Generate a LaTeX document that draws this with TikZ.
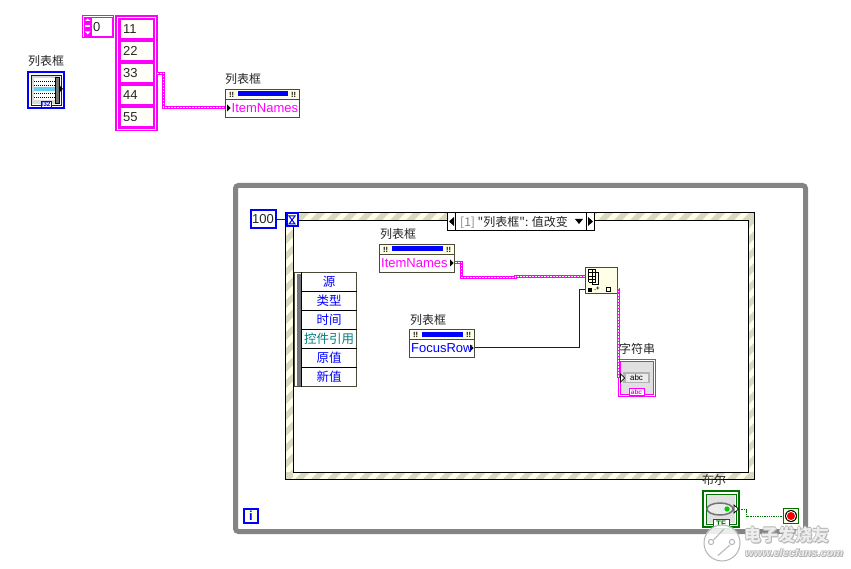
\documentclass[tikz,border=0pt]{standalone}
\usepackage{fontspec}
\setmainfont{Liberation Sans}
\newfontfamily\cjk{Noto Sans CJK SC}
\definecolor{lvpink}{HTML}{FF00FF}
\definecolor{lvblue}{HTML}{0000FF}
\definecolor{lvgreen}{HTML}{007000}
\definecolor{lvframe}{HTML}{848484}
\definecolor{lvcream}{HTML}{FFFFE6}
\definecolor{lvstripe}{HTML}{D9D9C2}
\definecolor{lvedge}{HTML}{4A4A38}
\definecolor{lvteal}{HTML}{008080}
\definecolor{lvgray}{HTML}{D8D8D8}
\definecolor{markgray}{HTML}{B4B4B4}
\definecolor{marklight}{HTML}{EDEDED}
\tikzset{
  x=1pt,y=-1pt,
  boxy/.style={rectangle,anchor=north west,inner sep=0pt,outer sep=0pt},
  lab/.style={font=\cjk\fontsize{12}{12}\selectfont,text=black!85,inner sep=0pt,anchor=center},
  elem/.style={boxy,fill=lvcream!30!white,minimum width=32pt,minimum height=18pt},
  elemtxt/.style={font=\fontsize{13}{13}\selectfont,inner sep=0pt,anchor=west,text=black!85},
  propnode/.style={boxy,draw=lvedge,line width=1pt,fill=white},
  pinkwire/.style={draw=lvpink,line width=3pt,line join=miter,
     postaction={draw=white,line width=1.2pt,dash pattern=on 1.5pt off 1.5pt}},
  bluewire/.style={draw=lvblue,line width=1pt},
  greenwire/.style={draw=lvgreen,line width=1.3pt,dash pattern=on 1.3pt off 1pt},
  rowtxt/.style={font=\cjk\fontsize{12.5}{12.5}\selectfont,text=lvblue,inner sep=0pt,anchor=center},
  rowline/.style={draw=black,line width=1pt},
  propname/.style={font=\fontsize{13}{13}\selectfont,inner sep=0pt,anchor=west},
  markline/.style={draw=markgray,line width=1pt},
  marktxt/.style={font=\cjk\bfseries\fontsize{17}{17}\selectfont,inner sep=0pt,anchor=west},
  markurl/.style={font=\bfseries\itshape\fontsize{11}{11}\selectfont,inner sep=0pt,anchor=west},
}
\newcommand{\prophead}[4]{% x1 y x2 terminal-x
  \fill[lvcream] (#1+1,#2+1) rectangle (#3-1,#2+9);
  \draw[draw=lvedge,line width=1pt] (#1,#2+10) -- (#3,#2+10);
  \fill[lvblue] (#1+12,#2+2) rectangle (#3-12,#2+7);
  \node[font=\bfseries\fontsize{7.5}{7.5}\selectfont,inner sep=0pt] at (#1+6,#2+5) {!!};
  \node[font=\bfseries\fontsize{7.5}{7.5}\selectfont,inner sep=0pt] at (#3-6,#2+5) {!!};
  \fill[black] (#4,#2+15) -- ++(3.5,3.5) -- ++(-3.5,3.5) -- cycle;
}
\begin{document}
\begin{tikzpicture}
\useasboundingbox[fill=white] (0,0) rectangle (851,569);

% ---------- loop frame
\node[boxy,draw=lvframe,line width=5pt,rounded corners=3pt,minimum width=570pt,minimum height=346pt] (loop) at (235.5,185.5) {};

% ---------- top left listbox terminal
\node[lab] (lb1lab) at (46,61) {列表框};
\node[boxy,draw=lvblue,line width=2pt,fill=white,minimum width=36pt,minimum height=36pt] (lbterm) at (28,72) {};
\draw[lvblue,line width=.8pt] (31,75) rectangle (61,105);
\fill[black!15] (32,76) rectangle (60,104);
\fill[white] (34,78) rectangle (55,100);
\foreach \yy in {81,85,93,97} \draw[black,line width=.7pt,dash pattern=on 1pt off 1pt] (34,\yy) -- (55,\yy);
\fill[cyan!60!white] (34,87) rectangle (55,91);
\fill[black!55] (55,77) rectangle (59,103);
\draw[black,line width=.5pt] (55,77) rectangle (59,103);
\fill[black] (59,85) -- (63,89) -- (59,93) -- cycle;
\node[fill=white,draw=lvblue,line width=.5pt,inner sep=.5pt,font=\bfseries\fontsize{6.5}{6.5}\selectfont,text=lvblue] at (46,104) {I32};

% ---------- array
\node[boxy,draw=lvpink,line width=1pt,fill=white,minimum width=31pt,minimum height=22pt] (idx) at (82.5,15.5) {};
\draw[lvpink,line width=.8pt] (84,17) rectangle (112,36);
\fill[lvpink] (84,17) rectangle (91.5,36);
\fill[white] (85,21) -- (87.7,18.5) -- (90.3,21) -- cycle;
\fill[white] (85,25.5) rectangle (90.3,27.5);
\fill[white] (85,31.5) -- (87.7,34.5) -- (90.3,31.5) -- cycle;
\node[elemtxt] (idxt) at (93,27) {0};
\node[boxy,draw=lvpink,line width=1pt,fill=lvpink,minimum width=42pt,minimum height=115pt] (arr) at (115.5,15.5) {};
\draw[white,line width=.8pt] (117,17) rectangle (155.5,129);
\node[elem] (e1) at (121,20) {};
\node[elem] (e2) at (121,42) {};
\node[elem] (e3) at (121,64) {};
\node[elem] (e4) at (121,86) {};
\node[elem] (e5) at (121,108) {};
\node[elemtxt] at (123,29) {11};
\node[elemtxt] at (123,51) {22};
\node[elemtxt] at (123,73) {33};
\node[elemtxt] at (123,95) {44};
\node[elemtxt] at (123,117) {55};

% ---------- top property node
\node[lab] (pn1lab) at (243,79) {列表框};
\node[propnode,minimum width=74pt,minimum height=28pt] (pn1) at (225.5,89.5) {};
\prophead{225.5}{89.5}{299.5}{227}
\node[propname,text=lvpink] at (231.5,108.5) {ItemNames};
\coordinate (pn1in) at (225,107.5);
\coordinate (arrout) at (157,73.5);
\draw[pinkwire] (arrout) -- (163.5,73.5) -- (163.5,107.5) -- (pn1in);

% ---------- case structure
\fill[lvcream] (285.5,212.5) rectangle (754.5,479.5);
\begin{scope}
\clip (285.5,212.5) rectangle (754.5,479.5);
\foreach \k in {0,1,...,50}
  \fill[lvstripe] (270+\k*16,212) -- ++(8,0) -- ++(-8,8) -- ++(-8,0) -- cycle;
\foreach \k in {0,1,...,50}
  \fill[lvstripe] (270+\k*16,472) -- ++(8,0) -- ++(-8,8) -- ++(-8,0) -- cycle;
\foreach \k in {0,1,...,18}
  \fill[lvstripe] (285,205+\k*16) -- ++(8,-8) -- ++(0,8) -- ++(-8,8) -- cycle;
\foreach \k in {0,1,...,18}
  \fill[lvstripe] (748,205+\k*16) -- ++(8,-8) -- ++(0,8) -- ++(-8,8) -- cycle;
\end{scope}
\node[boxy,draw=black,line width=1pt,minimum width=469pt,minimum height=267pt] (caseo) at (285.5,212.5) {};
\node[boxy,draw=black,line width=1pt,fill=white,minimum width=455pt,minimum height=252pt] (casei) at (293.5,220.5) {};

% selector
\node[boxy,draw=black,line width=1pt,fill=white,minimum width=147pt,minimum height=18pt] (sel) at (447.5,212.5) {};
\draw[black,line width=1pt] (455.5,212.5) -- (455.5,230.5) (586.5,212.5) -- (586.5,230.5);
\fill[black] (449,221.5) -- (454,217) -- (454,226) -- cycle;
\fill[black] (593,221.5) -- (588,217) -- (588,226) -- cycle;
\fill[black] (575,219) -- (583,219) -- (579,224) -- cycle;
\node[font=\cjk\fontsize{12}{12}\selectfont,inner sep=0pt,anchor=west,text=black!85] (seltxt) at (460,222) {\textcolor{black!50}{[1]} "列表框": 值改变};

% timeout terminal and constant
\node[boxy,draw=lvblue,line width=2pt,fill=white,minimum width=25pt,minimum height=18pt] (k100) at (250.5,210.5) {};
\node[font=\fontsize{13}{13}\selectfont,inner sep=0pt,text=black!85] at (263,219.5) {100};
\node[boxy,draw=lvblue,line width=2pt,fill=lvcream,minimum width=11pt,minimum height=13pt] (tmo) at (286.5,213) {};
\draw[lvblue,line width=1pt] (289,216) -- (295,216) -- (289,224) -- (295,224) -- cycle;
\draw[bluewire] (k100.east |- 0,219.5) -- (tmo.west |- 0,219.5);

% event data node
\node[boxy,draw=lvedge,line width=1pt,fill=white,minimum width=62pt,minimum height=114pt] (evt) at (294.5,272.5) {};
\fill[black!55] (296.5,274) rectangle (300.5,385.5);
\draw[black,line width=1pt] (301.5,272.5) -- (301.5,386.5);
\foreach \yy in {291.5,310.5,329.5,348.5,367.5} \draw[rowline] (301.5,\yy) -- (356.5,\yy);
\node[rowtxt] at (329,282) {源};
\node[rowtxt] at (329,301) {类型};
\node[rowtxt] at (329,320) {时间};
\node[rowtxt,text=lvteal] at (329,339) {控件引用};
\node[rowtxt] at (329,358) {原值};
\node[rowtxt] at (329,377) {新值};

% property nodes inside
\node[lab] (pn2lab) at (398,234) {列表框};
\node[propnode,minimum width=75pt,minimum height=28pt] (pn2) at (379.5,244.5) {};
\prophead{379.5}{244.5}{454.5}{450}
\node[propname,text=lvpink] at (381,263.5) {ItemNames};
\node[lab] (pn3lab) at (428,320) {列表框};
\node[propnode,minimum width=65pt,minimum height=28pt] (pn3) at (409.5,329.5) {};
\prophead{409.5}{329.5}{474.5}{470}
\node[propname,text=lvblue] at (411,348.5) {FocusRow};

% array-index function
\node[boxy,draw=lvedge,line width=1pt,fill=lvcream,minimum width=32pt,minimum height=26pt] (fn) at (585.5,267.5) {};
\foreach \xa in {588.5,592,595.5} \draw[black,line width=.7pt] (\xa,269.5) -- (\xa,282.5);
\foreach \ya in {269.5,272.75,276,279.25,282.5} \draw[black,line width=.7pt] (588.5,\ya) -- (595.5,\ya);
\draw[black,line width=.7pt] (595.5,272.5) -- (598.5,272.5) -- (598.5,284.5) -- (592,284.5) -- (592,282.5);
\fill[black] (588,288.5) rectangle (592,292);
\node[font=\bfseries\fontsize{6}{6}\selectfont,inner sep=0pt] at (597,289) {.+};
\draw[black,line width=.7pt] (606,287) rectangle (610,291);

% string indicator
\node[lab] (strlab) at (637,349) {字符串};
\node[boxy,draw=lvpink,line width=1pt,fill=white,minimum width=37pt,minimum height=37pt] (str) at (618.5,359.5) {};
\draw[lvpink,line width=1pt] (620.5,361.5) rectangle (653.5,394.5);
\fill[black!12] (621,362) rectangle (653,394);
\fill[black!30] (623,372) rectangle (650,383);
\fill[black!8] (626,373.5) rectangle (648,382);
\node[font=\fontsize{8}{8}\selectfont,inner sep=0pt] at (636.5,378) {abc};
\node[boxy,draw=lvpink,line width=.8pt,fill=white,inner sep=.5pt,minimum width=15pt,minimum height=7pt,anchor=center,font=\bfseries\fontsize{6.5}{6.5}\selectfont,text=lvpink] at (636.5,392) {abc};

% inside wires
\coordinate (pn2out) at (455,262.5);
\coordinate (fnin) at (585,276.5);
\coordinate (pn3out) at (475,347.5);
\coordinate (fnidx) at (585,289.5);
\coordinate (fnout) at (618.5,288);
\coordinate (strin) at (618.5,378);
\draw[pinkwire] (pn2out) -- (461.5,262.5) -- (461.5,277.5) -- (515.5,277.5) -- (515.5,276.5) -- (fnin);
\draw[bluewire] (pn3out) -- (579.5,347.5) -- (579.5,289.5) -- (fnidx);
\draw[pinkwire] (fnout) -- (strin);
\draw[black,fill=white,line width=.7pt] (620.5,374) -- (624.5,378) -- (620.5,382) -- cycle;

% boolean and stop
\node[lab] (boollab) at (714,480) {布尔};
\node[boxy,draw=lvgreen,line width=2pt,fill=white,minimum width=36pt,minimum height=36pt] (bool) at (703,491) {};
\draw[lvgreen,line width=.8pt] (706,494) rectangle (736,524);
\fill[black!12] (707,495) rectangle (735,523);
\draw[black!55,fill=black!8,line width=1.5pt] (720,509) ellipse (13 and 6);
\fill[green!80!black] (727,509) circle (2.6);
\draw[black,fill=white,line width=.7pt] (734,505) -- (738.5,509) -- (734,513) -- cycle;
\node[boxy,anchor=center,fill=white,draw=lvgreen,line width=1pt,minimum width=16pt,minimum height=9pt,font=\bfseries\fontsize{8}{8}\selectfont,text=lvgreen] at (721,524) {TF};
\node[boxy,draw=lvgreen,line width=1pt,fill=lvcream,minimum width=15pt,minimum height=15pt] (stopt) at (783.5,508.5) {};
\fill[black] (791,516) circle (6);
\fill[white] (791,516) circle (5);
\fill[red] (791,516) circle (4);
\coordinate (boolout) at (739,509.5);
\draw[greenwire] (boolout) -- (746.5,509.5) -- (746.5,516.5) -- (stopt.west |- 0,516.5);

% loop iteration terminal
\node[boxy,draw=lvblue,line width=2pt,fill=lvcream,minimum width=14pt,minimum height=14pt] (iter) at (244,509) {};
\node[font=\bfseries\fontsize{13}{13}\selectfont,text=lvblue,inner sep=0pt] at (251,516) {i};

% ---------- watermark
\fill[white,opacity=.85] (722,543) circle (18.5);
\draw[markgray,line width=1pt] (722,543) circle (18);
\draw[markline] (713.5,540) -- (724,529);
\draw[markline] (730,545) -- (718,555.5);
\draw[markline] (711,542) circle (2.6);
\draw[markline] (732,542) circle (2.6);
\foreach \dx/\dy in {-.7/0,.7/0,0/-.7,0/.7,.8/.8} {
  \node[marktxt,text=markgray] at (744+\dx,535+\dy) {电子发烧友};
  \node[markurl,text=markgray] at (745+\dx,553+\dy) {www.elecfans.com};
}
\node[marktxt,text=marklight] (wm1) at (744,535) {电子发烧友};
\node[markurl,text=marklight] (wm2) at (745,553) {www.elecfans.com};
\end{tikzpicture}
\end{document}
